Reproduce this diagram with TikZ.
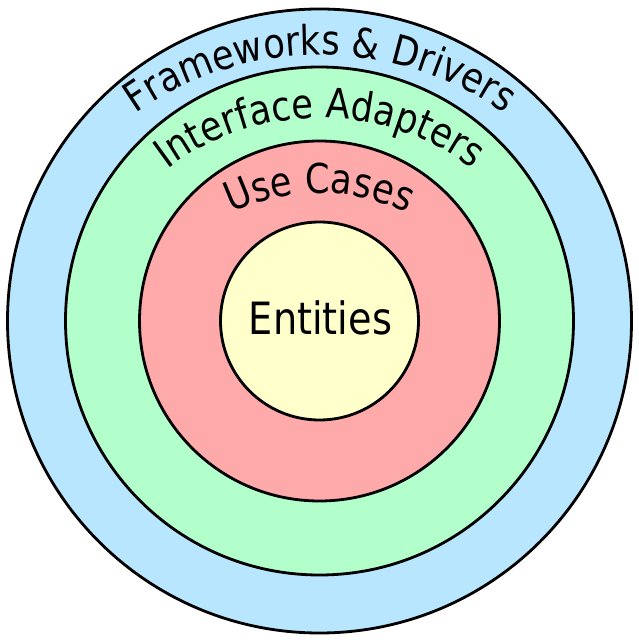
\documentclass[tikz,border=0pt]{standalone}
\usepackage{fontspec}
\setmainfont{DejaVu Sans}[FakeStretch=0.86]
\usetikzlibrary{decorations.text}
\definecolor{fwblue}{RGB}{185,230,255}
\definecolor{iagreen}{RGB}{179,255,204}
\definecolor{ucred}{RGB}{255,170,170}
\definecolor{enyellow}{RGB}{255,255,204}
\newcommand{\ringfont}{\fontsize{41}{45}\selectfont}
\newcommand{\entfont}{\fontsize{44.5}{48}\selectfont}
\begin{document}
\begin{tikzpicture}[x=1pt,y=1pt,
  ring/.style={circle, draw=black, line width=2.8pt, inner sep=0pt, outer sep=0pt},
  arclabel/.style={postaction={decorate}, decoration={text along path, text align=center, text={#1}}}]
\useasboundingbox (0,0) rectangle (639,643);
\coordinate (c) at (319.5,322);
\node[ring, fill=fwblue, minimum size=624pt] (fw) at (c) {};
\node[ring, fill=iagreen, minimum size=508pt] (ia) at (c) {};
\node[ring, fill=ucred, minimum size=360pt] (uc) at (c) {};
\node[ring, fill=enyellow, minimum size=198pt] (en) at (c) {};
\node[anchor=base, font=\entfont, inner sep=0pt] (entlabel) at (320.5,308) {Entities};
\coordinate (fwc) at (320,268);
\coordinate (iac) at (320,271);
\coordinate (ucc) at (319,250);
\path[arclabel={|\ringfont|Frameworks {\&} Drivers}]
  ([shift={(180:320pt)}]fwc) arc[start angle=180, end angle=0, radius=320pt];
\path[arclabel={|\ringfont|Interface Adapters}]
  ([shift={(180:254pt)}]iac) arc[start angle=180, end angle=0, radius=254pt];
\path[arclabel={|\ringfont|Use Cases}]
  ([shift={(180:200pt)}]ucc) arc[start angle=180, end angle=0, radius=200pt];
\end{tikzpicture}
\end{document}
